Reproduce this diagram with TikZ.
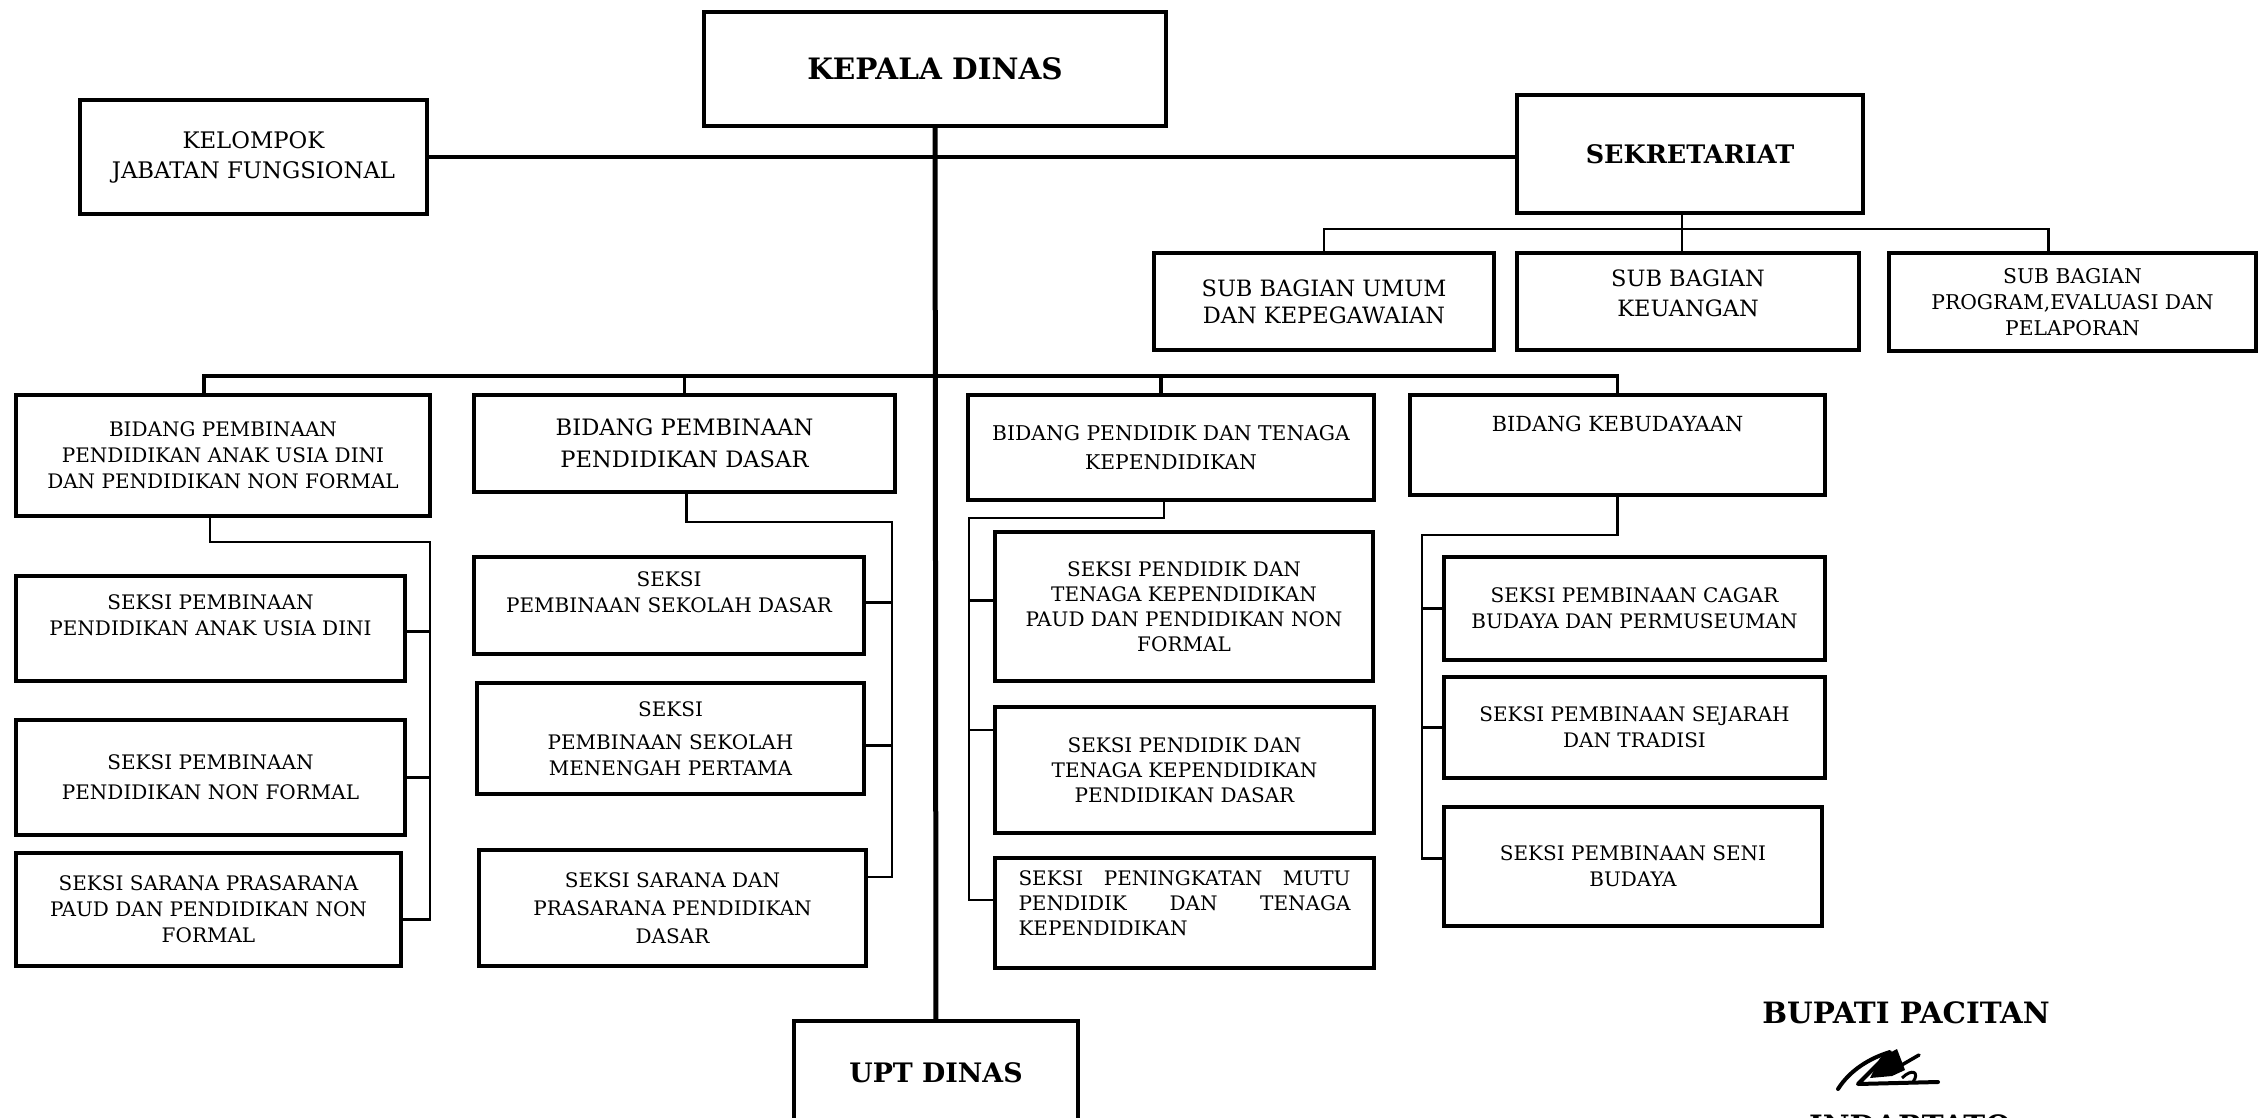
\documentclass[tikz,border=0pt]{standalone}
\usepackage{fontspec}
\setmainfont{DejaVu Serif}
\usepackage{tikz}
\tikzset{
    unit/.style={draw=black, line width=4pt, inner sep=0pt, align=center,
        font=\fontsize{20}{26}\selectfont},
    head/.style={unit, font=\fontsize{29.5}{34}\selectfont\bfseries},
    conn/.style={draw=black, line width=2.6pt},
    trunk/.style={draw=black, line width=5pt}
}
\begin{document}
\begin{tikzpicture}[x=1pt, y=-1pt]
\useasboundingbox (0,0) rectangle (2268,1118);
% pimpinan
\node[head, minimum width=462, minimum height=114] (kepala) at (935,69) {KEPALA DINAS};
\node[unit, minimum width=347, minimum height=114, font=\fontsize{22.8}{30}\selectfont] (kelompok) at (253.5,157) {KELOMPOK\\JABATAN FUNGSIONAL};
\node[head, minimum width=346, minimum height=118, font=\fontsize{25.5}{30}\selectfont\bfseries] (sekretariat) at (1690,154) {SEKRETARIAT};
\node[unit, minimum width=284, minimum height=104, font=\fontsize{26.8}{30}\selectfont\bfseries] (upt) at (936,1073) {UPT DINAS};

% sub bagian
\node[unit, minimum width=340, minimum height=97, font=\fontsize{22.5}{27}\selectfont] (umum) at (1324,301.5) {SUB BAGIAN UMUM\\DAN KEPEGAWAIAN};
\node[unit, minimum width=342, minimum height=97, font=\fontsize{22.5}{30}\selectfont] (keuangan) at (1688,301.5) {SUB BAGIAN\\KEUANGAN\\[-14pt]\mbox{}};
\node[unit, minimum width=367, minimum height=98, font=\fontsize{20.3}{26}\selectfont] (program) at (2072.5,302) {SUB BAGIAN\\PROGRAM,EVALUASI DAN\\PELAPORAN};

% bidang
\node[unit, minimum width=414, minimum height=121] (paud) at (223,455.5) {BIDANG PEMBINAAN\\PENDIDIKAN ANAK USIA DINI\\DAN PENDIDIKAN NON FORMAL};
\node[unit, minimum width=421, minimum height=97, font=\fontsize{22.6}{32}\selectfont] (dasar) at (684.5,443.5) {BIDANG PEMBINAAN\\PENDIDIKAN DASAR};
\node[unit, minimum width=406, minimum height=105, font=\fontsize{20.3}{29}\selectfont] (ptk) at (1171,447.5) {BIDANG PENDIDIK DAN TENAGA\\KEPENDIDIKAN};
\node[unit, minimum width=415, minimum height=100, font=\fontsize{20.8}{26}\selectfont] (budaya) at (1617.5,445) {BIDANG KEBUDAYAAN\\[16pt]\mbox{}};

% seksi
\node[unit, minimum width=389, minimum height=105] (s11) at (210.5,628.5) {SEKSI PEMBINAAN\\PENDIDIKAN ANAK USIA DINI\\\mbox{}};
\node[unit, minimum width=389, minimum height=115, font=\fontsize{20}{30}\selectfont] (s12) at (210.5,777.5) {SEKSI PEMBINAAN\\PENDIDIKAN NON FORMAL};
\node[unit, minimum width=385, minimum height=113] (s13) at (208.5,909.5) {SEKSI SARANA PRASARANA\\PAUD DAN PENDIDIKAN NON\\FORMAL};
\node[unit, minimum width=390, minimum height=97] (s21) at (669,605.5) {SEKSI\\PEMBINAAN SEKOLAH DASAR\\\mbox{}};
\node[unit, minimum width=387, minimum height=111] (s22) at (670.5,738.5) {SEKSI\\[7pt]PEMBINAAN SEKOLAH\\MENENGAH PERTAMA};
\node[unit, minimum width=387, minimum height=116, font=\fontsize{20}{28}\selectfont] (s23) at (672.5,908) {SEKSI SARANA DAN\\PRASARANA PENDIDIKAN\\DASAR};
\node[unit, minimum width=378, minimum height=149, font=\fontsize{20}{25}\selectfont] (s31) at (1184,606.5) {SEKSI PENDIDIK DAN\\TENAGA KEPENDIDIKAN\\PAUD DAN PENDIDIKAN NON\\FORMAL};
\node[unit, minimum width=379, minimum height=126, font=\fontsize{20}{25}\selectfont] (s32) at (1184.5,770) {SEKSI PENDIDIK DAN\\TENAGA KEPENDIDIKAN\\PENDIDIKAN DASAR};
\node[unit, minimum width=379, minimum height=110, text width=332, align=left, font=\fontsize{20}{25}\selectfont] (s33) at (1184.5,913) {SEKSI\hfill PENINGKATAN\hfill MUTU\\PENDIDIK\hfill DAN\hfill TENAGA\\KEPENDIDIKAN\\[-6pt]\mbox{}};
\node[unit, minimum width=381, minimum height=103] (s41) at (1634.5,608.5) {SEKSI PEMBINAAN CAGAR\\BUDAYA DAN PERMUSEUMAN};
\node[unit, minimum width=381, minimum height=101] (s42) at (1634.5,727.5) {SEKSI PEMBINAAN SEJARAH\\DAN TRADISI};
\node[unit, minimum width=378, minimum height=119] (s43) at (1633,866.5) {SEKSI PEMBINAAN SENI\\BUDAYA};

% garis
\coordinate (sbus) at (1682,229);
\coordinate (bbus) at (936,376);
\draw[trunk] (kepala) -- (upt);
\draw[trunk, line width=4.5pt] (kelompok.east) -- (kelompok.east -| sekretariat.west);
\draw[conn] ([xshift=-8pt]sekretariat.south) -- ([xshift=-6pt]keuangan.north);
\draw[conn] (umum.north) |- (sbus) -| ([xshift=-24pt]program.north);
\draw[conn, line width=3.5pt] ([xshift=-19pt]paud.north) |- (bbus) -| (budaya.north);
\draw[conn, line width=3.5pt] (dasar.north) -- (dasar.north |- bbus);
\draw[conn, line width=3.5pt] ([xshift=-10pt]ptk.north) -- ([xshift=-10pt]ptk.north |- bbus);

\coordinate (rail1) at (430,542);
\draw[conn] ([xshift=-13pt]paud.south) |- (rail1) |- ([yshift=-10pt]s13.east);
\draw[conn] ([yshift=-3pt]s11.east) -- ([yshift=-3pt]s11.east -| rail1);
\draw[conn] (s12.east) -- (s12.east -| rail1);

\coordinate (rail2) at (892,522);
\draw[conn] ([xshift=2pt]dasar.south) |- (rail2) |- ([yshift=31pt]s23.east);
\draw[conn] ([yshift=3pt]s21.east) -- ([yshift=3pt]s21.east -| rail2);
\draw[conn] ([yshift=-7pt]s22.east) -- ([yshift=-7pt]s22.east -| rail2);

\coordinate (rail3) at (969,518);
\draw[conn] ([xshift=-7pt]ptk.south) |- (rail3) |- ([yshift=13pt]s33.west);
\draw[conn] ([yshift=6pt]s31.west) -- ([yshift=6pt]s31.west -| rail3);
\draw[conn] ([yshift=40pt]s32.west) -- ([yshift=40pt]s32.west -| rail3);

\coordinate (rail4) at (1422,535);
\draw[conn] (budaya.south) |- (rail4) |- ([yshift=8pt]s43.west);
\draw[conn] (s41.west) -- (s41.west -| rail4);
\draw[conn] (s42.west) -- (s42.west -| rail4);

% pengesahan
\node[font=\fontsize{29.4}{34}\selectfont\bfseries] (bupati) at (1906,1013) {BUPATI PACITAN};
\draw[line width=4pt, line cap=round, line join=round] (1838,1089) .. controls (1850,1070) and (1870,1058) .. (1890,1052) -- (1858,1084) -- (1938,1082);
\fill (1880,1058) -- (1897,1049) -- (1905,1070) -- (1892,1076) -- (1870,1078) -- cycle;
\draw[line width=3.5pt, line cap=round] (1900,1066) -- (1919,1055);
\draw[line width=3pt] (1902,1078) .. controls (1912,1068) and (1920,1072) .. (1913,1082);
\node[font=\fontsize{29.4}{34}\selectfont\bfseries, anchor=north] (nama) at (1910,1111) {INDARTATO};
\end{tikzpicture}
\end{document}
